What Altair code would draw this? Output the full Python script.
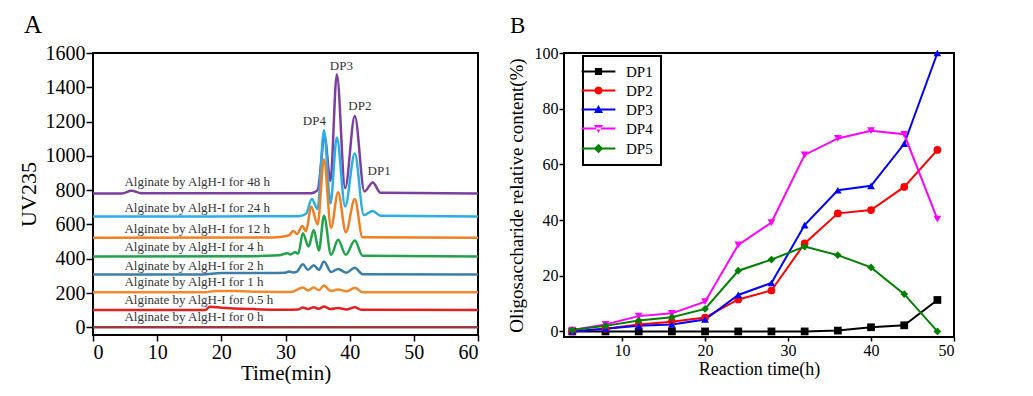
import altair as alt
import pandas as pd

# ---------------- Panel A data (chromatogram traces) ----------------
trace_names = ["48 h", "24 h", "12 h", "4 h", "2 h", "1 h", "0.5 h", "0 h"]
trace_colors = ["#7d3f9f", "#2aaee6", "#f07e22", "#22a24a", "#3c7fa6", "#f0892c", "#e2201f", "#9a3a3a"]

t_48 = [0, 4.5, 6, 7.5, 34, 35, 36.1, 37, 38, 39.3, 40.8, 42.3, 43.6, 44.8, 60]
v_48 = [781, 781, 797, 782, 782, 800, 1111, 855, 1475, 812, 1233, 792, 845, 785, 781]

t_24 = [0, 32, 33.2, 34.1, 35, 36, 37, 38, 39.3, 40.8, 42.2, 43.6, 44.8, 60]
v_24 = [646, 648, 662, 748, 690, 1150, 722, 1107, 705, 1014, 655, 679, 650, 646]

t_12 = [0, 28, 30.5, 31.2, 31.8, 32.6, 33.2, 34, 35, 36, 37.1, 38.2, 39.4, 40.8, 42, 60]
v_12 = [522, 524, 535, 562, 545, 591, 560, 704, 600, 979, 580, 787, 555, 748, 525, 522]

t_4 = [0, 25, 29, 30.3, 30.8, 31.5, 32, 32.7, 33.6, 34.4, 35.2, 36, 37.1, 38.2, 39.4, 40.8, 42, 60]
v_4 = [413, 415, 420, 432, 425, 438, 430, 549, 471, 568, 448, 650, 423, 510, 423, 506, 418, 413]

t_2 = [0, 17, 20, 27, 30, 30.5, 31.2, 31.8, 32.7, 33.5, 34.4, 35.2, 36, 37.1, 38.2, 39.5, 40.8, 42, 60]
v_2 = [308, 308, 316, 316, 318, 325, 320, 325, 368, 335, 362, 335, 384, 322, 340, 318, 348, 310, 308]

t_1 = [0, 17.5, 19, 22, 26, 30, 31, 32.7, 33.5, 34.4, 35.2, 36, 37, 38.2, 39.5, 40.8, 42, 60]
v_1 = [204, 204, 212, 212, 207, 206, 207, 232, 215, 232, 216, 244, 213, 220, 210, 230, 205, 204]

t_05 = [0, 17.5, 18.2, 20, 25, 30, 32, 32.7, 33.5, 34.4, 35.2, 36, 37, 38.2, 39.5, 40.8, 41.8, 60]
v_05 = [101, 101, 120, 114, 106, 103, 104, 115, 107, 117, 108, 121, 106, 112, 104, 117, 102, 101]

t_0 = [0, 30, 60]
v_0 = [0, 0, 0]

trace_t = [t_48, t_24, t_12, t_4, t_2, t_1, t_05, t_0]
trace_v = [v_48, v_24, v_12, v_4, v_2, v_1, v_05, v_0]

label_texts = ["Alginate by AlgH-I for " + n for n in trace_names]
label_x = [4.9] * 8
label_y = [849, 694, 576, 471, 360, 262, 161, 58]

dp_texts = ["DP3", "DP2", "DP4", "DP1"]
dp_x = [38.7, 41.6, 34.5, 44.6]
dp_y = [1526, 1290, 1204, 911]

# ---------------- Panel B data ----------------
hours = [4, 8, 12, 16, 20, 24, 28, 32, 36, 40, 44, 48]
dp1 = [0, 0, 0, 0, 0, 0, 0, 0, 0.3, 1.5, 2.2, 11.3]
dp2 = [0, 1.0, 2.5, 3.5, 5.0, 11.5, 14.7, 31.6, 42.4, 43.6, 51.9, 65.2]
dp3 = [0, 1.0, 2.0, 2.5, 4.3, 13.1, 17.4, 38.2, 50.7, 52.3, 67.4, 100]
dp4 = [0.5, 2.5, 5.5, 6.5, 10.7, 31.1, 39.1, 63.4, 69.3, 72.1, 70.8, 40.3]
dp5 = [0.5, 2.0, 3.9, 5.1, 8.1, 21.8, 25.8, 30.5, 27.4, 23.0, 13.4, 0]
series_names = ["DP1", "DP2", "DP3", "DP4", "DP5"]
series_colors = ["#000000", "#ff0000", "#0000ff", "#ff00ff", "#008000"]
series_shapes = ["square", "circle", "triangle-up", "triangle-down", "diamond"]

SERIF = "Liberation Serif"

# ---------------- Panel A ----------------
xA = alt.X("t:Q", scale=alt.Scale(domain=[0, 60], nice=False),
           axis=alt.Axis(values=[0, 10, 20, 30, 40, 50, 60], title="Time(min)", grid=False,
                         domain=False, tickSize=6, tickWidth=1.5, tickColor="black",
                         labelFont=SERIF, labelFontSize=20, labelColor="black", labelPadding=1,
                         titleFont=SERIF, titleFontSize=21, titleFontWeight="normal",
                         titleColor="black", titlePadding=0))
yA = alt.Y("v:Q", scale=alt.Scale(domain=[-45, 1600], nice=False, zero=False),
           axis=alt.Axis(values=list(range(0, 1601, 200)), format="d", title="UV235", grid=False,
                         domain=False, tickSize=7, tickWidth=1.5, tickColor="black",
                         labelFont=SERIF, labelFontSize=20, labelColor="black", labelPadding=1,
                         minExtent=49, maxExtent=49,
                         titleFont=SERIF, titleFontSize=22, titleFontWeight="normal",
                         titleColor="black", titlePadding=4))

layersA = []
for name, col, ts, vs in zip(trace_names, trace_colors, trace_t, trace_v):
    df = pd.DataFrame({"t": ts, "v": vs})
    layersA.append(
        alt.Chart(df).mark_line(interpolate="monotone", strokeWidth=2.5, color=col)
        .encode(x=xA, y=yA)
    )

lab_df = pd.DataFrame({"t": label_x, "v": label_y, "txt": label_texts})
layersA.append(
    alt.Chart(lab_df).mark_text(align="left", baseline="middle", font=SERIF, fontSize=13, color="#333333")
    .encode(x=xA, y=yA, text="txt:N")
)
dp_df = pd.DataFrame({"t": dp_x, "v": dp_y, "txt": dp_texts})
layersA.append(
    alt.Chart(dp_df).mark_text(align="center", baseline="middle", font=SERIF, fontSize=13, color="#333333")
    .encode(x=xA, y=yA, text="txt:N")
)

chartA = alt.layer(*layersA).properties(
    width=385, height=282,
    title=alt.TitleParams("A", anchor="start", frame="bounds", font=SERIF, fontSize=25,
                          fontWeight="normal", color="black", dx=7, offset=5)
)

# ---------------- Panel B ----------------
rows = []
for name, vals in zip(series_names, [dp1, dp2, dp3, dp4, dp5]):
    for h, v in zip(hours, vals):
        rows.append({"h": h, "val": v, "series": name})
dfB = pd.DataFrame(rows)

xB = alt.X("h:Q", scale=alt.Scale(domain=[3, 50], nice=False, zero=False),
           axis=alt.Axis(values=[10, 20, 30, 40, 50], title="Reaction time(h)", grid=False,
                         domain=False, tickSize=4, tickWidth=1.5, tickColor="black",
                         labelFont=SERIF, labelFontSize=16, labelColor="black", labelPadding=1,
                         titleFont=SERIF, titleFontSize=18, titleFontWeight="normal",
                         titleColor="black", titlePadding=2))
yB = alt.Y("val:Q", scale=alt.Scale(domain=[-2, 100], nice=False, zero=False),
           axis=alt.Axis(values=[0, 20, 40, 60, 80, 100], title="Oligosaccharide relative content(%)",
                         grid=False, domain=False, tickSize=5, tickWidth=1.5, tickColor="black",
                         labelFont=SERIF, labelFontSize=16, labelColor="black", labelPadding=1,
                         minExtent=32, maxExtent=32,
                         titleFont=SERIF, titleFontSize=19, titleFontWeight="normal",
                         titleColor="black", titlePadding=6))

color_scale = alt.Scale(domain=series_names, range=series_colors)

bar = "M-2.6,-0.14L2.6,-0.14L2.6,0.14L-2.6,0.14Z"
legend_paths = [
    bar + "M-0.55,-0.55L0.55,-0.55L0.55,0.55L-0.55,0.55Z",
    bar + "M0.62,0A0.62,0.62 0 1,1 -0.62,0A0.62,0.62 0 1,1 0.62,0Z",
    bar + "M0,-0.68L0.7,0.52L-0.7,0.52Z",
    bar + "M0,0.68L0.7,-0.52L-0.7,-0.52Z",
    bar + "M0,-0.72L0.72,0L0,0.72L-0.72,0Z",
]

linesB = alt.Chart(dfB).mark_line(strokeWidth=2).encode(
    x=xB, y=yB, color=alt.Color("series:N", scale=color_scale, legend=None)
)
pointsB = alt.Chart(dfB).mark_point(filled=True, size=60, opacity=1).encode(
    x=xB, y=yB,
    color=alt.Color("series:N", scale=color_scale, legend=None),
    shape=alt.Shape("series:N", scale=alt.Scale(domain=series_names, range=series_shapes), legend=None),
)
legend_cfg = alt.Legend(
    title=None, orient="none", legendX=19, legendY=3, direction="vertical",
    strokeColor="black", fillColor="white", padding=8,
    symbolSize=169, labelOffset=20, rowPadding=3,
    labelFont=SERIF, labelFontSize=15, labelColor="black", symbolOpacity=1,
)
legendB = alt.Chart(dfB).mark_point(filled=True, opacity=1, size=169).encode(
    x=xB, y=yB,
    color=alt.Color("series:N", scale=color_scale, legend=legend_cfg),
    shape=alt.Shape("series:N", scale=alt.Scale(domain=series_names, range=legend_paths), legend=legend_cfg),
).transform_filter("false")

chartB = alt.layer(linesB, pointsB, legendB).resolve_scale(
    color="independent", shape="independent"
).properties(
    width=390, height=284,
    title=alt.TitleParams("B", anchor="start", frame="bounds", font=SERIF, fontSize=23,
                          fontWeight="normal", color="black", dx=3, offset=7)
)

chart = alt.hconcat(chartA, chartB, spacing=21).properties(
    padding={"left": 8, "top": 4, "right": 0, "bottom": 0}
).configure_view(
    stroke="black", strokeWidth=2
).configure_axis(
    labelFont=SERIF, titleFont=SERIF
).configure_legend(
    strokeColor="black", strokeWidth=2, labelFont=SERIF
)

chart.save("out.html", embed_options={"renderer": "svg", "actions": False})
